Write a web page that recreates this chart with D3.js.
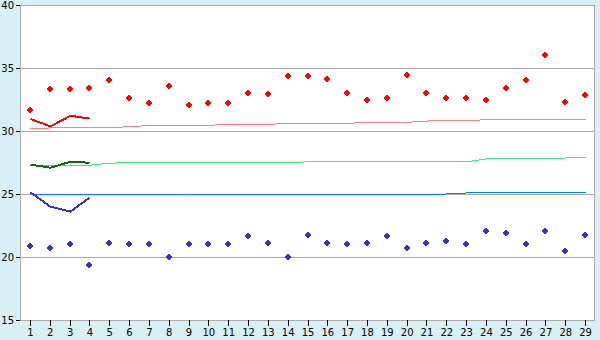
<!DOCTYPE html>
<html><head><meta charset="utf-8">
<script src="https://cdn.jsdelivr.net/npm/d3@7/dist/d3.min.js"></script>
<style>html,body{margin:0;padding:0;background:#d9eff6;}svg{display:block;}</style>
</head><body><svg id="c" width="600" height="340"></svg>
<script>
const categories = ["1","2","3","4","5","6","7","8","9","10","11","12","13","14","15","16","17","18","19","20","21","22","23","24","25","26","27","28","29"];
const yTicks = [15,20,25,30,35,40];
const gridValues = [20,25,30,35];
const redPoints = [31.64,33.31,33.31,33.39,34.02,32.6,32.2,33.55,32.04,32.2,32.2,32.99,32.91,34.34,34.34,34.1,32.99,32.44,32.6,34.42,32.99,32.6,32.6,32.44,33.39,34.02,36.03,32.28,32.83];
const bluePoints = [20.85,20.69,21.0,19.34,21.09,21.0,21.0,19.98,21.0,21.0,21.0,21.63,21.09,19.98,21.71,21.09,21.0,21.09,21.68,20.69,21.09,21.25,21.0,22.06,21.9,21.0,22.06,20.45,21.75];
const redLine = [30.95,30.37,31.21,30.98];
const greenLine = [27.33,27.09,27.56,27.48];
const blueLine = [25.13,23.99,23.6,24.71];
const redTrend = [30.21,30.24,30.29,30.29,30.29,30.33,30.45,30.45,30.45,30.45,30.53,30.53,30.53,30.61,30.61,30.61,30.61,30.69,30.69,30.69,30.79,30.82,30.82,30.9,30.9,30.9,30.9,30.9,30.9];
const greenTrend = [27.28,27.28,27.28,27.28,27.45,27.48,27.48,27.48,27.48,27.48,27.48,27.48,27.48,27.48,27.56,27.56,27.56,27.56,27.56,27.56,27.56,27.56,27.56,27.78,27.78,27.78,27.78,27.86,27.86];
const blueTrend = [24.93,24.93,24.93,24.93,24.93,24.93,24.93,24.93,25.0,25.0,25.0,25.0,25.0,25.0,25.0,25.0,25.0,25.0,25.0,25.0,25.0,25.0,25.08,25.08,25.08,25.08,25.08,25.08,25.08];

const L=20, R=595, T=5, B=320;
const svg = d3.select("#c");
const x = d3.scalePoint().domain(categories).range([L,R]).padding(0.5);
const y = d3.scaleLinear().domain([15,40]).range([B,T]);

svg.append("rect").attr("x",0).attr("y",0).attr("width",600).attr("height",340).attr("fill","#d9eff6");
svg.append("rect").attr("x",L).attr("y",T).attr("width",R-L).attr("height",B-T).attr("fill","#fff");

svg.append("g").selectAll("line").data(gridValues).join("line")
  .attr("x1",L).attr("x2",R).attr("y1",d=>Math.round(y(d))+0.5).attr("y2",d=>Math.round(y(d))+0.5)
  .attr("stroke","#aaaaaa").attr("stroke-width",1);

function drawLine(vals, color, w){
  const line = d3.line().x((d,i)=>Math.round(x(categories[i]))+0.5).y(d=>y(d));
  svg.append("path").datum(vals).attr("d",line).attr("fill","none")
    .attr("stroke",color).attr("stroke-width",w).attr("shape-rendering","crispEdges");
}
drawLine(redTrend,"#ff8080",1);
drawLine(greenTrend,"#33ee77",1);
drawLine(blueTrend,"#0080ff",1);
drawLine(redLine,"#ff0000",2);
drawLine(greenLine,"#087008",2);
drawLine(blueLine,"#3333cc",2);

const marker = "M-1,-3h2v1h1v1h1v2h-1v1h-1v1h-2v-1h-1v-1h-1v-2h1v-1h1z";
function drawMarkers(vals,color){
  svg.append("g").selectAll("path").data(vals).join("path")
    .attr("d",marker).attr("fill",color).attr("shape-rendering","crispEdges")
    .attr("transform",(d,i)=>`translate(${Math.round(x(categories[i]))},${Math.round(y(d))})`);
}
drawMarkers(redPoints,"#ff0000");
drawMarkers(bluePoints,"#3333cc");

svg.append("rect").attr("x",L+0.5).attr("y",T+0.5).attr("width",R-L-1).attr("height",B-T)
  .attr("fill","none").attr("stroke","#aaaaaa");

const xa = svg.append("g").attr("transform",`translate(0,${B})`)
  .call(d3.axisBottom(x).tickSize(6).tickPadding(3));
xa.select(".domain").remove();
xa.selectAll(".tick line").attr("stroke","#000").attr("shape-rendering","crispEdges");
xa.selectAll(".tick text").attr("fill","#000").attr("font-family","DejaVu Sans").attr("font-size","10px");

const ya = svg.append("g").attr("transform",`translate(${L},0)`)
  .call(d3.axisLeft(y).tickValues(yTicks).tickSize(4).tickPadding(2));
ya.select(".domain").remove();
ya.selectAll(".tick line").attr("stroke","#000").attr("shape-rendering","crispEdges");
ya.selectAll(".tick text").attr("fill","#000").attr("font-family","DejaVu Sans").attr("font-size","10px");
</script></body></html>
